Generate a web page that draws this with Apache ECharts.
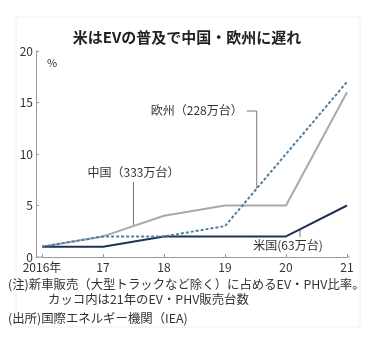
<!DOCTYPE html>
<html><head><meta charset="utf-8">
<script src="https://cdn.jsdelivr.net/npm/echarts@6/dist/echarts.min.js"></script>
<style>html,body{margin:0;padding:0;background:#fff;}#c{width:376px;height:347px;}</style>
</head><body><div id="c"></div>
<script>
const years = [2016, 2017, 2018, 2019, 2020, 2021];
const china = [1, 2, 4, 5, 5, 16];
const europe = [1, 2, 2, 3, 10, 17];
const us = [1, 1, 2, 2, 2, 5];
const yTicks = [0, 5, 10, 15, 20];
const title = '米はEVの普及で中国・欧州に遅れ';
const labelChina = '中国（333万台）';
const labelEurope = '欧州（228万台）';
const labelUS = '米国(63万台)';
const notes = ['(注)新車販売（大型トラックなど除く）に占めるEV・PHV比率。', 'カッコ内は21年のEV・PHV販売台数', '(出所)国際エネルギー機関（IEA)'];

const F = '"Noto Sans CJK JP", "Noto Sans", sans-serif';
const NUM = '"Liberation Sans Narrow", "Noto Sans CJK JP", sans-serif';
const pairs = arr => years.map((y, i) => [y, arr[i]]);
const chart = echarts.init(document.getElementById('c'), null, {renderer: 'canvas'});
chart.setOption({
  animation: false,
  backgroundColor: '#fff',
  grid: {left: 42, right: 29, top: 51, bottom: 90, containLabel: false},
  xAxis: {
    type: 'value', min: years[0], max: years[years.length - 1], interval: 1,
    axisLine: {show: true, lineStyle: {color: '#999', width: 1}},
    axisTick: {show: true, inside: true, length: 3, lineStyle: {color: '#999'}},
    splitLine: {show: false},
    axisLabel: {color: '#333', fontSize: 12, fontFamily: NUM, margin: 4,
      formatter: v => v === years[0] ? v + '年' : String(v).slice(2)}
  },
  yAxis: {
    type: 'value', min: yTicks[0], max: yTicks[yTicks.length - 1], interval: 5, offset: 6,
    axisLine: {show: true, lineStyle: {color: '#999', width: 1}},
    axisTick: {show: true, inside: true, length: 3, lineStyle: {color: '#999'}},
    splitLine: {show: false},
    axisLabel: {color: '#333', fontSize: 12, fontFamily: NUM, margin: 3}
  },
  series: [
    {type: 'line', data: pairs(china), symbol: 'none', z: 2, lineStyle: {color: '#a9a9ab', width: 2}},
    {type: 'line', data: pairs(us), symbol: 'none', z: 3, lineStyle: {color: '#1f3355', width: 2}},
    {type: 'line', data: pairs(europe), symbol: 'none', z: 4, lineStyle: {color: '#4f7ea3', width: 2, type: [3, 2]}}
  ]
});

function interp(arr, x) {
  const i = Math.floor(x - years[0]);
  const t = x - years[0] - i;
  return arr[i] + (arr[i + 1] - arr[i]) * t;
}
const px = (x, y) => chart.convertToPixel({gridIndex: 0}, [x, y]);
const aC = px(2017.5, interp(china, 2017.5));
const aE = px(2019.52, interp(europe, 2019.52));
const aU = px(2020.23, interp(us, 2020.23));
const x0 = px(years[0], 0);
const x1 = px(years[years.length - 1], 0);
const lineStyle = {stroke: '#777', lineWidth: 1};
const txt = (x, y, text, opts) => Object.assign({type: 'text', x: x, y: y, style: Object.assign({text: text, fill: '#333', font: '12px ' + F, textVerticalAlign: 'middle'}, opts || {})});
const noteFont = '12.4px ' + F;
chart.setOption({
  graphic: [
    {type: 'rect', shape: {x: 16, y: 17, width: 344, height: 310}, style: {fill: 'none', stroke: '#f0f0f0'}, z: -1},
    txt(187, 37, title, {font: 'bold 15px ' + F, fill: '#222', textAlign: 'center'}),
    txt(52, 63, '%', {font: '11px ' + F, textAlign: 'center'}),
    {type: 'line', shape: {x1: x0[0] - 6, y1: x0[1], x2: x0[0], y2: x0[1]}, style: {stroke: '#999', lineWidth: 1}},
    {type: 'line', shape: {x1: x1[0], y1: x1[1], x2: x1[0] + 3, y2: x1[1]}, style: {stroke: '#999', lineWidth: 1}},
    // China
    txt(aC[0], 172, labelChina, {textAlign: 'center'}),
    {type: 'line', shape: {x1: aC[0], y1: 182, x2: aC[0], y2: aC[1]}, style: lineStyle},
    // Europe
    txt(aE[0] - 14, 110, labelEurope, {textAlign: 'right'}),
    {type: 'polyline', shape: {points: [[aE[0] - 10, 111], [aE[0], 111], [aE[0], aE[1]]]}, style: Object.assign({fill: 'none'}, lineStyle)},
    // US
    txt(aU[0] - 12, 245, labelUS, {textAlign: 'center'}),
    {type: 'line', shape: {x1: aU[0], y1: aU[1], x2: aU[0], y2: 237}, style: lineStyle},
    // notes
    txt(8, 284, notes[0], {font: noteFont}),
    txt(48, 299, notes[1], {font: noteFont}),
    txt(8, 318, notes[2], {font: noteFont})
  ]
});
</script></body></html>
